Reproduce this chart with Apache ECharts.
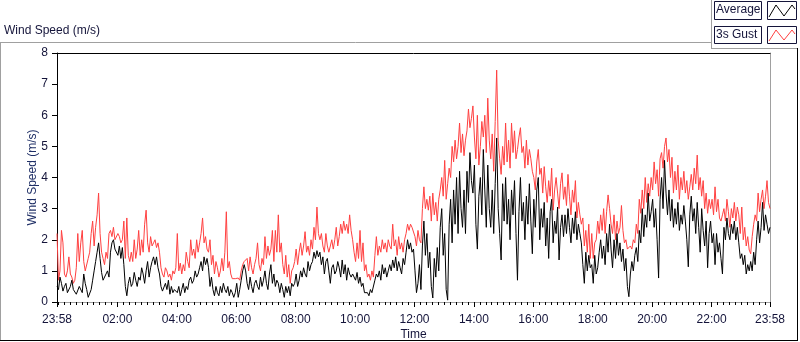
<!DOCTYPE html>
<html>
<head>
<meta charset="utf-8">
<script src="https://cdn.jsdelivr.net/npm/echarts@6/dist/echarts.min.js"></script>
<style>
html,body{margin:0;padding:0;background:#fff;}
#chart{width:800px;height:342px;}
</style>
</head>
<body>
<div id="chart"></div>
<script>
// Sample interval (minutes) and start (minutes relative to midnight: 23:58 of previous day)
const startMinute = -2;
const stepMinutes = 3;

// Average wind speed (m/s)
const averageSpeed = [
  0.5,0.4,0.8,0.6,0.35,0.5,0.6,0.3,0.3,0.5,0.7,0.4,0.45,0.25,0.3,0.5,0.55,0.3,0.9,0.6,
  0.4,0.15,0.2,0.4,0.7,1.0,1.3,1.6,1.9,1.4,0.95,0.7,0.75,0.9,1.0,0.8,1.6,1.9,2.0,1.7,
  1.7,1.5,1.8,1.4,1.75,1.2,0.5,0.2,0.6,0.8,0.5,0.6,0.95,0.7,0.5,0.8,0.7,1.1,0.9,0.6,
  1.0,1.3,0.8,1.1,1.3,1.45,1.2,1.45,1.1,0.9,0.5,0.35,0.3,0.6,0.4,0.7,0.25,0.5,0.3,0.4,
  0.4,0.3,0.5,0.2,0.4,0.6,0.3,0.5,0.4,0.7,0.8,0.6,0.7,1.0,0.8,0.9,1.1,1.3,1.0,1.45,
  1.2,1.4,1.1,0.5,0.8,0.4,0.2,0.5,0.3,0.2,0.5,0.3,0.6,0.4,0.3,0.5,0.2,0.4,0.3,0.15,
  0.3,0.6,0.15,0.4,0.7,1.0,1.2,1.0,0.6,0.4,0.8,0.5,0.3,0.6,0.7,0.5,0.4,0.8,0.5,0.7,
  1.0,0.6,0.4,0.9,1.2,0.6,0.9,0.5,0.7,0.6,0.3,0.6,0.4,0.15,0.5,0.3,0.5,0.2,0.6,0.5,
  0.6,0.9,0.5,0.7,1.0,0.8,1.1,0.9,0.8,1.3,1.0,1.2,1.3,1.6,1.4,1.65,1.45,1.6,1.2,1.45,
  0.9,1.3,1.4,1.0,0.6,1.1,1.2,0.9,1.0,1.3,1.1,0.8,1.35,0.9,1.2,0.7,1.1,0.9,0.8,0.9,
  0.9,0.7,0.95,0.6,0.8,0.5,0.6,0.3,0.25,0.3,0.2,0.4,0.3,0.25,0.7,0.9,0.8,1.0,0.7,1.2,
  0.9,1.1,0.8,1.0,1.2,1.0,1.35,1.1,1.45,1.0,1.3,1.1,0.9,1.4,1.2,1.6,2.0,1.7,1.9,1.6,
  1.7,1.0,0.3,0.6,1.2,0.4,1.8,2.6,1.5,2.2,1.1,1.6,0.5,0.13,1.4,0.8,1.75,1.0,2.4,3.0,
  1.5,2.2,0.4,0.06,2.5,3.3,1.9,3.6,2.5,4.0,2.2,4.2,3.0,2.4,3.6,2.2,4.2,3.2,4.8,3.9,
  3.5,4.4,2.5,1.7,3.4,4.0,2.8,4.9,3.6,2.4,4.4,3.0,2.4,3.6,2.2,3.8,5.27,3.0,2.2,1.35,
  3.8,2.6,4.0,2.5,3.3,2.0,3.6,2.8,3.9,2.2,0.7,2.9,4.0,2.6,3.2,2.0,3.4,2.5,3.8,2.6,
  1.55,3.3,2.4,3.6,4.0,2.0,3.0,2.4,3.2,1.8,2.7,1.4,2.9,3.3,1.9,2.6,2.2,3.05,1.35,2.4,
  2.8,2.1,2.8,2.2,3.0,2.4,1.9,2.7,2.2,2.9,2.0,2.5,2.2,1.9,1.2,0.6,1.6,1.0,1.5,1.1,
  1.2,0.6,1.5,0.9,1.1,1.6,2.0,1.4,1.8,1.2,2.2,1.6,2.5,1.7,1.1,2.0,1.4,2.2,1.5,1.9,
  1.3,1.7,1.0,1.4,0.5,0.17,0.9,1.3,1.0,1.5,1.75,1.3,2.3,1.9,3.0,2.1,2.8,2.4,3.5,2.6,
  2.9,3.3,2.4,3.0,2.0,0.77,3.3,4.0,3.0,4.55,3.5,2.8,3.6,2.6,3.3,2.4,3.0,2.5,3.2,2.3,
  2.8,2.5,3.1,2.6,2.0,1.13,2.8,3.4,2.6,3.0,2.2,3.2,2.4,1.6,3.0,2.3,1.8,2.6,1.1,2.2,
  2.6,1.9,2.2,1.2,2.2,1.6,1.9,1.4,0.9,2.4,2.0,2.7,2.2,2.0,2.5,2.2,2.6,2.0,2.4,1.9,
  1.4,1.55,1.2,1.5,0.9,1.2,1.0,1.3,1.0,1.6,1.2,2.0,2.6,1.9,2.4,3.2,2.3,2.8,2.5,2.2,2.4
];

// 3 s gust wind speed (m/s)
const gustSpeed = [
  2.2,0.7,1.0,2.3,1.9,0.9,0.8,1.0,1.45,0.9,0.8,0.6,0.7,1.1,2.2,1.3,1.9,2.3,1.3,1.0,
  1.0,1.4,1.6,2.2,2.6,1.8,2.4,2.8,3.5,2.2,1.6,1.4,1.2,1.6,1.4,2.2,2.3,2.1,2.4,2.0,
  2.0,2.2,2.1,1.9,2.0,2.6,1.4,2.7,1.5,1.3,1.6,1.3,2.0,1.4,1.7,2.3,1.5,2.0,1.6,2.5,
  2.95,1.9,1.6,2.1,1.8,1.9,2.0,1.75,1.9,1.6,1.1,0.9,0.8,1.1,1.0,0.8,0.9,0.7,1.0,0.9,
  1.1,2.2,1.0,1.25,0.9,1.2,1.0,1.6,1.3,1.1,2.0,1.5,1.7,1.4,2.0,1.6,1.9,2.2,2.7,1.9,
  2.1,1.7,1.6,2.0,1.2,1.5,0.9,1.3,1.1,0.8,1.0,1.4,1.0,1.6,2.9,1.1,1.3,0.9,0.75,0.8,
  0.75,0.7,0.77,0.7,1.0,1.2,1.3,1.25,1.4,1.0,1.45,1.1,0.9,1.2,1.4,1.9,1.2,1.0,1.4,1.2,
  2.1,1.4,1.8,1.5,1.7,2.3,1.3,2.3,1.6,2.8,1.6,1.9,1.2,0.9,1.5,0.8,1.2,0.6,1.0,1.1,
  1.3,1.7,1.2,1.6,1.9,1.5,1.8,2.26,1.6,1.8,1.5,2.0,1.7,2.4,2.0,3.05,2.2,2.0,2.2,1.8,
  1.6,2.2,1.8,1.6,1.55,2.0,1.7,2.0,2.4,1.8,2.1,2.5,2.2,2.6,2.3,2.5,2.2,2.8,2.3,2.0,
  1.6,1.3,1.9,1.4,2.3,1.3,1.9,1.0,1.2,0.8,0.9,0.7,1.0,0.8,1.5,2.1,1.5,1.8,1.6,2.0,
  1.7,1.9,1.6,2.0,1.8,1.7,2.5,1.8,2.0,1.5,2.1,1.7,1.9,1.6,2.0,2.2,2.5,2.3,2.5,2.4,
  2.4,2.1,1.8,2.3,2.0,1.9,3.0,3.7,3.0,3.3,2.95,3.4,2.6,3.5,2.8,3.2,2.6,3.3,3.6,4.0,
  3.4,4.55,3.3,3.8,4.3,4.0,5.0,4.5,5.2,4.6,5.0,5.75,4.8,5.4,4.7,5.2,5.5,6.2,5.6,5.9,
  6.3,5.3,4.6,6.0,4.4,5.0,5.8,5.3,6.0,4.8,6.55,5.2,4.6,5.4,4.2,5.8,7.45,5.2,4.6,4.1,
  5.0,4.4,5.75,4.5,5.2,4.3,5.75,4.8,5.5,4.6,4.9,5.3,5.6,4.8,5.0,4.3,5.2,4.4,4.9,4.6,
  4.2,4.0,3.6,4.5,4.9,4.1,4.3,3.5,4.35,3.7,3.2,3.9,3.4,4.3,2.95,3.6,4.0,3.5,3.0,3.8,
  4.15,3.3,3.7,3.1,4.1,3.4,2.8,3.6,3.2,3.9,2.7,3.2,2.8,2.5,2.7,1.8,2.3,1.6,2.5,1.4,
  2.2,1.4,1.9,2.0,2.6,2.2,2.8,2.3,3.0,2.2,2.9,3.44,3.0,2.5,2.2,2.8,2.0,2.6,2.2,2.4,
  3.1,2.3,1.9,2.0,1.7,1.65,1.8,1.7,2.0,1.9,2.5,2.2,3.3,2.85,3.6,3.0,4.0,3.2,3.8,3.4,
  4.0,3.6,4.5,3.8,4.25,3.4,4.6,4.8,4.3,5.0,5.27,4.5,4.9,4.0,4.65,3.5,4.2,3.6,4.4,3.3,
  4.0,3.6,4.2,3.5,3.9,3.3,3.7,4.1,3.6,4.3,3.8,4.72,3.6,4.0,3.4,3.9,3.0,3.5,2.85,3.3,
  3.0,3.3,2.8,3.7,2.9,3.3,2.7,2.6,2.8,3.0,2.6,3.3,2.9,2.4,3.0,2.7,3.2,2.6,3.05,2.8,
  2.2,3.05,2.0,2.4,1.8,2.1,1.67,1.55,2.1,2.5,2.8,2.6,3.5,2.9,3.3,3.6,3.0,3.4,3.9,3.2,3.0
];

// Axis tick values (minutes from midnight) and labels
const majorTickMinutes = [-2,120,240,360,480,600,720,840,960,1080,1200,1320,1438];
const majorTickLabels = ['23:58','02:00','04:00','06:00','08:00','10:00','12:00','14:00','16:00','18:00','20:00','22:00','23:58'];
const minorTickStep = 12;
const yTicks = [0,1,2,3,4,5,6,7,8];
const seriesNames = ['Average','3s Gust'];

const minorTickMinutes = [];
for (let m = 0; m <= 1428; m += minorTickStep) minorTickMinutes.push(m);

function toPairs(arr){ return arr.map((v,i)=>[startMinute + i*stepMinutes, v]); }

const FONT = '"Liberation Sans", Arial, sans-serif';
const TXT = '#14143a';

const chart = echarts.init(document.getElementById('chart'), null, {renderer:'canvas'});
const option = {
  animation:false,
  backgroundColor:'#ffffff',
  textStyle:{fontFamily:FONT},
  grid:{left:57, top:53, width:713, height:249, containLabel:false, outerBoundsMode:'none'},
  xAxis:[
    {
      type:'value', min:-2, max:1438, position:'bottom',
      name:'Time', nameLocation:'middle', nameGap:27, nameMoveOverlap:false,
      nameTextStyle:{fontFamily:FONT, fontSize:12, color:TXT},
      axisLine:{show:true, onZero:false, lineStyle:{color:'#a0a0a0', width:1}},
      axisTick:{show:true, customValues:majorTickMinutes, length:5, lineStyle:{color:'#000', width:1}},
      axisLabel:{show:true, customValues:majorTickMinutes, margin:12, fontFamily:FONT, fontSize:12, color:TXT,
        formatter:function(v){ const i = majorTickMinutes.indexOf(v); return i>=0 ? majorTickLabels[i] : ''; }},
      splitLine:{show:false}
    },
    {
      type:'value', min:-2, max:1438, position:'bottom', gridIndex:0,
      axisLine:{show:false, onZero:false},
      axisTick:{show:true, customValues:minorTickMinutes, length:3, lineStyle:{color:'#000', width:1}},
      axisLabel:{show:false},
      splitLine:{show:false}
    },
    {
      type:'value', min:-2, max:1438, position:'top', gridIndex:0,
      axisLine:{show:true, onZero:false, lineStyle:{color:'#000', width:1}},
      axisTick:{show:false}, axisLabel:{show:false}, splitLine:{show:false}
    }
  ],
  yAxis:[
    {
      type:'value', min:0, max:8, interval:1, position:'left',
      name:'Wind Speed (m/s)', nameLocation:'middle', nameGap:18, nameMoveOverlap:false,
      nameTextStyle:{fontFamily:FONT, fontSize:12, color:'#1f2f66'},
      axisLine:{show:true, onZero:false, lineStyle:{color:'#000', width:1}},
      axisTick:{show:true, length:5, lineStyle:{color:'#000', width:1}},
      axisLabel:{margin:9, fontFamily:FONT, fontSize:12, color:TXT,
        formatter:function(v){ return yTicks.indexOf(v)>=0 ? String(v) : ''; }},
      splitLine:{show:false}
    },
    {
      type:'value', min:0, max:8, position:'right',
      axisLine:{show:true, onZero:false, lineStyle:{color:'#a0a0a0', width:1}},
      axisTick:{show:false}, axisLabel:{show:false}, splitLine:{show:false}
    }
  ],
  series:[
    {
      name:seriesNames[1], type:'line', xAxisIndex:0, yAxisIndex:0,
      data:toPairs(gustSpeed), showSymbol:false, symbol:'none', sampling:null,
      lineStyle:{color:'#ff4040', width:1}, itemStyle:{color:'#ff4040'},
      emphasis:{disabled:true}, z:2
    },
    {
      name:seriesNames[0], type:'line', xAxisIndex:0, yAxisIndex:0,
      data:toPairs(averageSpeed), showSymbol:false, symbol:'none', sampling:null,
      lineStyle:{color:'#000000', width:1}, itemStyle:{color:'#000000'},
      emphasis:{disabled:true}, z:3
    }
  ],
  graphic:[
    {type:'text', left:4, top:25, style:{text:'Wind Speed (m/s)', font:'12px '+FONT, fill:TXT}},
    {type:'line', shape:{x1:0, y1:42.5, x2:711, y2:42.5}, style:{stroke:'#a0a0a0', lineWidth:1}},
    {type:'line', shape:{x1:0.5, y1:42, x2:0.5, y2:340}, style:{stroke:'#a0a0a0', lineWidth:1}},
    {type:'line', shape:{x1:0, y1:340.5, x2:798, y2:340.5}, style:{stroke:'#000', lineWidth:1}},
    {type:'line', shape:{x1:797.5, y1:48, x2:797.5, y2:341}, style:{stroke:'#000', lineWidth:1}},
    {type:'line', shape:{x1:711.5, y1:0, x2:711.5, y2:48}, style:{stroke:'#a0a0a0', lineWidth:1}},
    {type:'line', shape:{x1:711, y1:48.5, x2:797, y2:48.5}, style:{stroke:'#a0a0a0', lineWidth:1}},
    {type:'rect', shape:{x:714.5, y:1.5, width:47, height:18}, style:{fill:'#fff', stroke:'#14143a', lineWidth:1}},
    {type:'text', left:716, top:4, style:{text:seriesNames[0], font:'12px '+FONT, fill:TXT}},
    {type:'rect', shape:{x:767.5, y:1.5, width:29, height:18}, style:{fill:'#fff', stroke:'#14143a', lineWidth:1}},
    {type:'polyline', shape:{points:[[769,17],[776,5],[784,16],[792,5],[795,9]]}, style:{stroke:'#000', lineWidth:1, fill:null}},
    {type:'rect', shape:{x:714.5, y:26.5, width:47, height:17}, style:{fill:'#fff', stroke:'#14143a', lineWidth:1}},
    {type:'text', left:716, top:29, style:{text:seriesNames[1], font:'12px '+FONT, fill:TXT}},
    {type:'rect', shape:{x:767.5, y:26.5, width:29, height:17}, style:{fill:'#fff', stroke:'#14143a', lineWidth:1}},
    {type:'polyline', shape:{points:[[769,41],[776,30],[784,40],[792,30],[795,34]]}, style:{stroke:'#ff4040', lineWidth:1, fill:null}}
  ]
};
chart.setOption(option);
</script>
</body>
</html>
